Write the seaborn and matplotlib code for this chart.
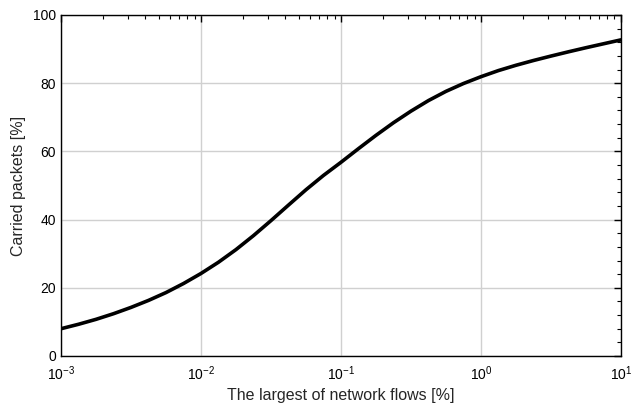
import matplotlib
matplotlib.use("Agg")
import matplotlib.pyplot as plt
import matplotlib.ticker as mtick
import numpy as np
import pandas as pd
import seaborn as sns

# Values: x as log10 of % of flows (1/8-decade steps),
# y as % of carried packets
flows_exp = [-3.0, -2.875, -2.75, -2.625, -2.5, -2.375, -2.25, -2.125,
             -2.0, -1.875, -1.75, -1.625, -1.5, -1.375, -1.25, -1.125,
             -1.0, -0.875, -0.75, -0.625, -0.5, -0.375, -0.25, -0.125,
             0.0, 0.125, 0.25, 0.375, 0.5, 0.625, 0.75, 0.875, 1.0]
packets_pct = [8.0, 9.3, 10.75, 12.4, 14.25, 16.3, 18.6, 21.25,
               24.2, 27.5, 31.2, 35.3, 39.7, 44.25, 48.75, 52.95,
               56.8, 60.8, 64.7, 68.4, 71.8, 74.9, 77.6, 79.9,
               81.9, 83.7, 85.25, 86.65, 87.95, 89.2, 90.4, 91.55, 92.7]

x_ticks = [1e-3, 1e-2, 1e-1, 1e0, 1e1]
x_tick_labels = ["$10^{-3}$", "$10^{-2}$", "$10^{-1}$", "$10^{0}$", "$10^{1}$"]
y_ticks = [0, 20, 40, 60, 80, 100]

sns.set_style("whitegrid")
plt.rcParams["font.family"] = ["Liberation Sans", "DejaVu Sans"]
plt.rcParams["mathtext.default"] = "regular"

df = pd.DataFrame({"flows": np.power(10.0, flows_exp), "packets": packets_pct})

fig = plt.figure(figsize=(6.31, 4.05), dpi=100)
ax = fig.add_axes([0.0967, 0.121, 0.8873, 0.842])

sns.lineplot(data=df, x="flows", y="packets", color="black", linewidth=2.6,
             solid_joinstyle="round", solid_capstyle="round", ax=ax)

ax.set_xscale("log")
ax.set_xlim(1e-3, 1e1)
ax.set_ylim(0, 100)
ax.set_xticks(x_ticks)
ax.set_xticklabels(x_tick_labels)
ax.xaxis.set_minor_locator(mtick.LogLocator(base=10, subs=np.arange(2, 10), numticks=20))
ax.xaxis.set_minor_formatter(mtick.NullFormatter())
ax.set_yticks(y_ticks)
ax.yaxis.set_minor_locator(mtick.MultipleLocator(4))

ax.grid(True, which="major", color="#d0d0d0", linewidth=1.0)
ax.grid(False, which="minor")
for s in ax.spines.values():
    s.set_color("black")
    s.set_linewidth(1.0)

ax.tick_params(which="both", direction="in", top=True, right=True,
               colors="black", labelsize=10)
ax.tick_params(which="major", length=5, width=1.0)
ax.tick_params(which="minor", length=3, width=0.8)
ax.tick_params(axis="x", which="major", pad=6)

ax.set_xlabel("The largest of network flows [%]", fontsize=11.5, labelpad=4)
ax.set_ylabel("Carried packets [%]", fontsize=11.5, labelpad=5)

fig.savefig("out.png", dpi=100)
